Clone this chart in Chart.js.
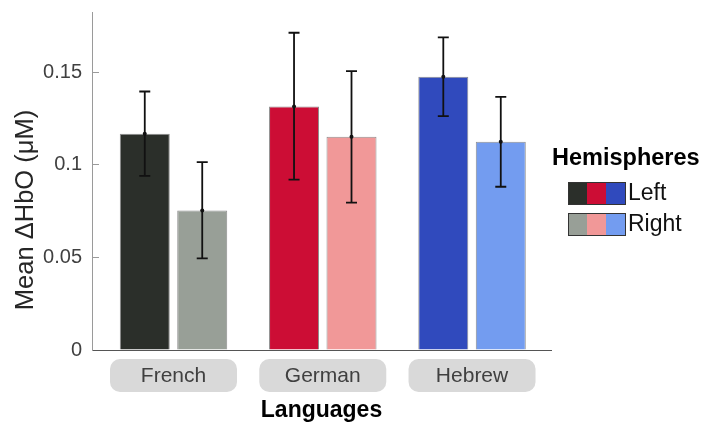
<!DOCTYPE html>
<html>
<head>
<meta charset="utf-8">
<script src="https://cdn.jsdelivr.net/npm/chart.js@4.4.1/dist/chart.umd.min.js"></script>
<style>
  html, body { margin: 0; padding: 0; background: #fff; }
  #wrap { width: 704px; height: 427px; }
</style>
</head>
<body>
<div id="wrap"><canvas id="myChart" width="704" height="427"></canvas></div>
<script>
  // languages and hemisphere means with their error bar ends
  const languages = ['French', 'German', 'Hebrew'];
  const leftMean = [0.1167, 0.1314, 0.1474];
  const leftLow = [0.0940, 0.0919, 0.1262];
  const leftHigh = [0.1395, 0.1712, 0.1687];
  const rightMean = [0.0753, 0.1151, 0.1124];
  const rightLow = [0.0494, 0.0795, 0.0881];
  const rightHigh = [0.1014, 0.1505, 0.1366];
  const yTicks = [0, 0.05, 0.1, 0.15];

  const leftColors = ['#2b2f2a', '#cc0d35', '#304abd'];
  const rightColors = ['#989f97', '#f19898', '#739cf0'];

  const FONT = "'Liberation Sans', Arial, sans-serif";

  // bars sit on a linear x so the axis can run a bit past the outer groups
  const toPoints = (vals) => vals.map((v, i) => ({ x: i + 1, y: v }));

  // grey rounded boxes behind the language names
  const labelBoxes = {
    id: 'labelBoxes',
    beforeDraw(chart) {
      const { ctx, scales: { x } } = chart;
      ctx.save();
      ctx.fillStyle = '#d9d9d9';
      languages.forEach((_, i) => {
        const cx = x.getPixelForValue(i + 1);
        ctx.beginPath();
        ctx.roundRect(cx - 63.5, 359, 127, 33, 10);
        ctx.fill();
      });
      ctx.restore();
    }
  };

  // error bars with a dot at the mean
  const errorBars = {
    id: 'errorBars',
    afterDatasetsDraw(chart) {
      const { ctx, scales: { y } } = chart;
      ctx.save();
      ctx.strokeStyle = '#111';
      ctx.fillStyle = '#111';
      ctx.lineWidth = 1.8;
      chart.data.datasets.forEach((ds, d) => {
        chart.getDatasetMeta(d).data.forEach((bar, i) => {
          const top = y.getPixelForValue(ds.errHigh[i]);
          const bot = y.getPixelForValue(ds.errLow[i]);
          const mid = y.getPixelForValue(ds.data[i].y);
          ctx.beginPath();
          ctx.moveTo(bar.x, top); ctx.lineTo(bar.x, bot);
          ctx.moveTo(bar.x - 5.5, top); ctx.lineTo(bar.x + 5.5, top);
          ctx.moveTo(bar.x - 5.5, bot); ctx.lineTo(bar.x + 5.5, bot);
          ctx.stroke();
          ctx.beginPath();
          ctx.arc(bar.x, mid, 2, 0, Math.PI * 2);
          ctx.fill();
        });
      });
      ctx.restore();
    }
  };

  // y title is placed a little below the middle of the axis
  const yTitle = {
    id: 'yTitle',
    afterDraw(chart) {
      const { ctx } = chart;
      ctx.save();
      ctx.translate(26, 210);
      ctx.rotate(-Math.PI / 2);
      ctx.font = '25.5px ' + FONT;
      ctx.fillStyle = '#262626';
      ctx.textAlign = 'center';
      ctx.textBaseline = 'middle';
      ctx.fillText('Mean ΔHbO (μM)', 0, 0);
      ctx.restore();
    }
  };

  // legend: one striped swatch per hemisphere
  const stripeLegend = {
    id: 'stripeLegend',
    afterDraw(chart) {
      const { ctx } = chart;
      ctx.save();
      ctx.fillStyle = '#000';
      ctx.textBaseline = 'middle';
      ctx.font = 'bold 23.5px ' + FONT;
      ctx.fillText('Hemispheres', 552, 159);
      ctx.font = '23px ' + FONT;
      chart.data.datasets.forEach((ds, d) => {
        const top = 182 + d * 31;
        ds.backgroundColor.forEach((c, k) => {
          ctx.fillStyle = c;
          ctx.fillRect(568 + k * 19, top, 19, 23);
        });
        ctx.strokeStyle = '#333';
        ctx.lineWidth = 1;
        ctx.strokeRect(568.5, top + 0.5, 57, 22);
        ctx.fillStyle = '#111';
        ctx.fillText(ds.label, 628, top + 12);
      });
      ctx.restore();
    }
  };

  const ctx = document.getElementById('myChart');

  new Chart(ctx, {
    type: 'bar',
    data: {
      datasets: [{
        label: 'Left',
        data: toPoints(leftMean),
        errLow: leftLow,
        errHigh: leftHigh,
        backgroundColor: leftColors,
        borderColor: 'rgba(0,0,0,0.45)',
        borderWidth: 1
      }, {
        label: 'Right',
        data: toPoints(rightMean),
        errLow: rightLow,
        errHigh: rightHigh,
        backgroundColor: rightColors,
        borderColor: 'rgba(0,0,0,0.45)',
        borderWidth: 1
      }]
    },
    options: {
      responsive: false,
      animation: false,
      layout: { padding: { left: 0, top: 12, right: 153, bottom: 0 } },
      datasets: { bar: { categoryPercentage: 0.77, barPercentage: 0.87, grouped: true } },
      plugins: {
        legend: { display: false },
        tooltip: { enabled: false }
      },
      scales: {
        x: {
          type: 'linear',
          offset: false,
          min: 0.454,
          max: 3.529,
          grid: { display: false, drawTicks: false },
          border: { display: true, color: '#555', width: 1 },
          afterBuildTicks: (axis) => { axis.ticks = languages.map((_, i) => ({ value: i + 1 })); },
          afterFit: (axis) => { axis.height = 77; },
          ticks: {
            autoSkip: false,
            maxRotation: 0,
            padding: 14,
            color: '#404040',
            font: { family: FONT, size: 21 },
            callback: (v) => languages[v - 1]
          },
          title: {
            display: true,
            text: 'Languages',
            color: '#000',
            font: { family: FONT, size: 23, weight: 'bold' },
            padding: { top: 0, bottom: 3 }
          }
        },
        y: {
          min: 0,
          max: 0.1824,
          grid: { display: true, drawOnChartArea: false, drawTicks: true, tickLength: -7, color: '#9a9a9a' },
          border: { display: true, color: '#9a9a9a', width: 1 },
          afterBuildTicks: (axis) => { axis.ticks = yTicks.map((v) => ({ value: v })); },
          afterFit: (axis) => {
            axis.width = 92;
            axis.paddingTop = 0;
            axis.paddingBottom = 0;
          },
          ticks: {
            padding: 17,
            color: '#404040',
            font: { family: FONT, size: 20 },
            callback: (v) => String(v)
          }
        }
      }
    },
    plugins: [labelBoxes, errorBars, yTitle, stripeLegend]
  });
</script>
</body>
</html>
